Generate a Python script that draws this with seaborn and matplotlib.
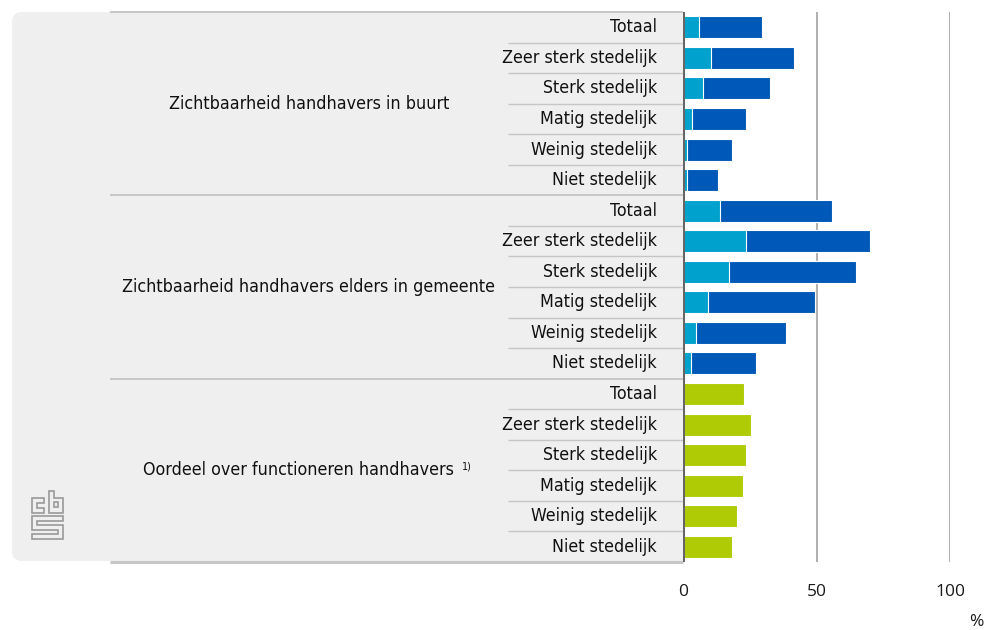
import numpy as np
import pandas as pd
import matplotlib
matplotlib.use("Agg")
import matplotlib.pyplot as plt
import matplotlib.font_manager as fm
from matplotlib.patches import FancyBboxPatch, Polygon
from matplotlib.transforms import blended_transform_factory
import seaborn as sns

# ---------------- data ----------------
categories = ["Totaal", "Zeer sterk stedelijk", "Sterk stedelijk",
              "Matig stedelijk", "Weinig stedelijk", "Niet stedelijk"]
groups = ["Zichtbaarheid handhavers in buurt",
          "Zichtbaarheid handhavers elders in gemeente",
          "Oordeel over functioneren handhavers"]
buurt_light = [6.1, 10.5, 7.5, 3.4, 1.4, 1.4]
buurt_dark = [23.4, 31.2, 25.1, 20.2, 17.0, 11.8]
gemeente_light = [13.9, 23.7, 17.2, 9.4, 4.9, 2.9]
gemeente_dark = [42.0, 46.5, 47.7, 40.2, 33.6, 24.6]
oordeel = [22.8, 25.5, 23.6, 22.4, 20.4, 18.4]
x_ticks = [0, 50, 100]

C_LIGHT = "#00a1cd"
C_DARK = "#0058b8"
C_GREEN = "#afcb05"
PANEL = "#efefef"
SEP = "#c6c6c6"

rows = []
for gi, (g, light, dark) in enumerate([(groups[0], buurt_light, buurt_dark),
                                       (groups[1], gemeente_light, gemeente_dark),
                                       (groups[2], [0] * 6, oordeel)]):
    for ci, c in enumerate(categories):
        rows.append({"rij": f"{gi}-{ci}", "groep": g, "categorie": c,
                     "licht": light[ci], "totaal": light[ci] + dark[ci],
                     "kleur": "groen" if gi == 2 else "blauw"})
df = pd.DataFrame(rows)
order = list(df["rij"])

sns.set_theme(style="white")
avail = {f.name for f in fm.fontManager.ttflist}
if "Liberation Sans Narrow" in avail:
    lab_fp = dict(family="Liberation Sans Narrow")
else:
    lab_fp = dict(family="DejaVu Sans", stretch="condensed")
tick_family = "Open Sans" if "Open Sans" in avail else "DejaVu Sans"

W, H = 984, 630
fig = plt.figure(figsize=(W / 100, H / 100), dpi=100)
fig.patch.set_facecolor("white")

# fit label font size to reference width
renderer = fig.canvas.get_renderer()
t = fig.text(0, 0, "Zeer sterk stedelijk", fontsize=12, **lab_fp)
w = t.get_window_extent(renderer).width
t.remove()
LS = 12 * 155 / w

X0, X100, YT, YB = 683, 950, 12, 562
ax = fig.add_axes([X0 / W, 1 - YB / H, (X100 - X0) / W, (YB - YT) / H])
ax.set_facecolor("white")

# grey panel
panel = FancyBboxPatch((12 / 100, (H - 561) / 100), (700 - 12) / 100, (561 - 12) / 100,
                       boxstyle="round,pad=0,rounding_size=0.1",
                       transform=fig.dpi_scale_trans, facecolor=PANEL,
                       edgecolor="none", zorder=-5)
fig.patches.append(panel)

sns.barplot(data=df, y="rij", x="totaal", hue="kleur", order=order,
            palette={"blauw": C_DARK, "groen": C_GREEN}, dodge=False,
            saturation=1, width=0.72, edgecolor="white", linewidth=0.8,
            legend=False, ax=ax, zorder=3)
sns.barplot(data=df[df["kleur"] == "blauw"], y="rij", x="licht", order=order,
            color=C_LIGHT, saturation=1, width=0.72, edgecolor="white",
            linewidth=0.8, ax=ax, zorder=4)

ax.set_xlim(0, 100)
ax.set_ylim(len(order) - 0.5, -0.5)
for s in ax.spines.values():
    s.set_visible(False)
ax.set_yticks([])
ax.set_ylabel("")
ax.set_xlabel("")
ax.set_xticks(x_ticks)
ax.set_xticklabels([str(v) for v in x_ticks], family=tick_family, fontsize=12.5, color="#1a1a1a")
ax.tick_params(axis="x", length=0, pad=16)
for v in x_ticks[1:]:
    ax.axvline(v, color="#9a9a9a", lw=1.1, zorder=1)
ax.axvline(0, color="#666666", lw=2.9, zorder=6)

tr = blended_transform_factory(ax.transAxes, ax.transData)
def fx(px):
    return (px - X0) / (X100 - X0)

# separators
n = len(categories)
for gi in range(len(groups) + 1):
    y = gi * n - 0.5
    lw = 2.2 if gi == len(groups) else 1.4
    ax.plot([fx(110), 0], [y, y], transform=tr, color=SEP, lw=lw,
            clip_on=False, zorder=2, solid_capstyle="butt")
for gi in range(len(groups)):
    for ci in range(1, n):
        y = gi * n + ci - 0.5
        ax.plot([fx(508), 0], [y, y], transform=tr, color=SEP, lw=1.0,
                clip_on=False, zorder=2, solid_capstyle="butt")

# category labels
for i, r in df.iterrows():
    ax.text(fx(657), i, r["categorie"], transform=tr, ha="right", va="center",
            fontsize=LS, color="#111111", **lab_fp)

# group labels
for gi, g in enumerate(groups):
    yc = gi * n + (n - 1) / 2
    if gi == 2:
        ax.text(fx(298), yc, g, transform=tr, ha="center", va="center",
                fontsize=LS, color="#111111", **lab_fp)
        ax.text(fx(462), yc - 0.12, "1)", transform=tr, ha="left", va="center",
                fontsize=LS * 0.6, color="#111111", **lab_fp)
    else:
        ax.text(fx(309), yc, g, transform=tr, ha="center", va="center",
                fontsize=LS, color="#111111", **lab_fp)

# unit
fig.text(976 / W, 1 - 622 / H, "%", ha="center", va="center",
         family=tick_family, fontsize=12.5, color="#1a1a1a")

# cbs logo (decorative outline)
def px2fig(pts):
    return [(x / W, 1 - y / H) for x, y in pts]
logo_shapes = [
    [(32, 498), (44, 498), (44, 503), (37, 503), (37, 508), (44, 508), (44, 513), (32, 513)],
    [(49, 491), (54, 491), (54, 498), (63, 498), (63, 513), (49, 513)],
    [(54, 502), (58, 502), (58, 507), (54, 507)],
    [(32, 516), (63, 516), (63, 521), (37, 521), (37, 525), (63, 525), (63, 539),
     (32, 539), (32, 534), (58, 534), (58, 530), (32, 530)],
]
for shp in logo_shapes:
    fig.patches.append(Polygon(px2fig(shp), closed=True, transform=fig.transFigure,
                               facecolor="none", edgecolor="#999999", lw=1.2, zorder=1))

fig.savefig("out.png", dpi=100, facecolor="white")
